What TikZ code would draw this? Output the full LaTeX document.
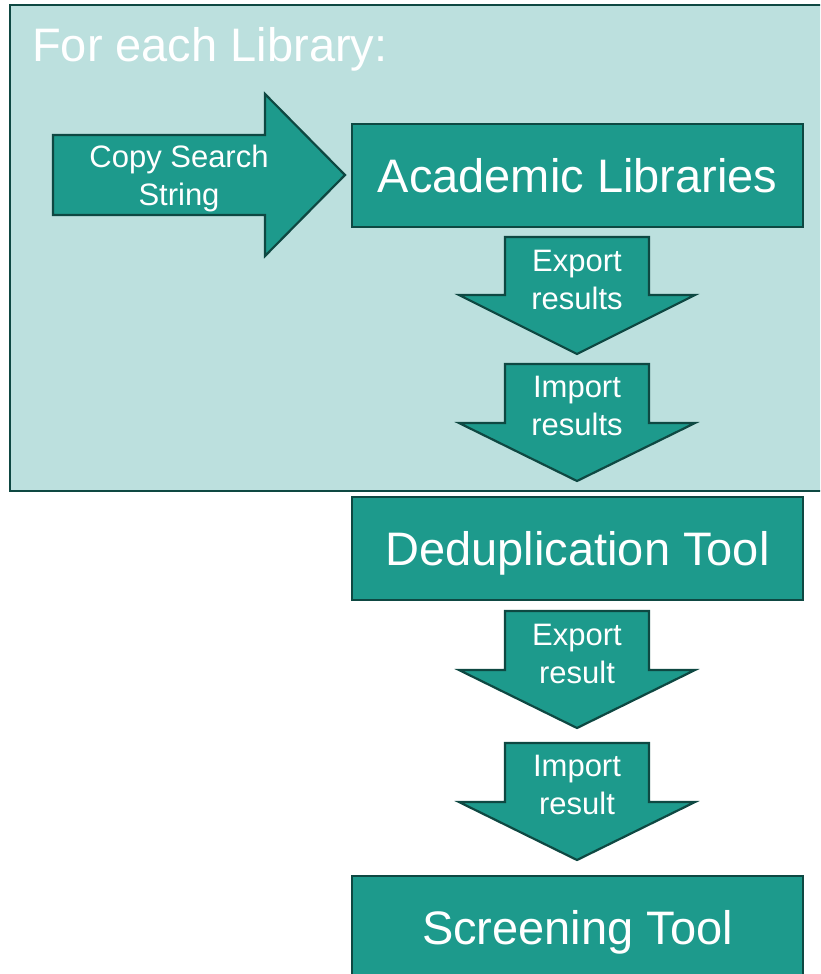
\documentclass[tikz,border=0pt]{standalone}
\usepackage{fontspec}
\setmainfont{Liberation Sans}
\definecolor{bgteal}{HTML}{BCE0DE}
\definecolor{tealfill}{HTML}{1D9A8C}
\definecolor{darkline}{HTML}{0E4842}
\newcommand\mydarrow[4]{% name, top, headbase, tip
  \draw[shapeline] (505,#2) -- (649,#2) -- (649,#3) -- (695,#3) -- (577,#4) -- (459,#3) -- (505,#3) -- cycle;
}
\begin{document}
\begin{tikzpicture}[x=1pt,y=-1pt,
  shapeline/.style={draw=darkline, line width=2.2pt, fill=tealfill, line join=miter},
  bigbox/.style={shapeline, rectangle, minimum width=451pt, minimum height=103pt, inner sep=0pt,
    text=white, font=\fontsize{47}{56}\selectfont, text height=33.6pt, text depth=0pt},
  smalltext/.style={text=white, font=\fontsize{31}{38}\selectfont, align=center, inner sep=0pt, anchor=base}]
\useasboundingbox (0,0) rectangle (820,974);
\clip (0,0) rectangle (820,974);
\fill[white] (0,0) rectangle (820,974);
% outer loop box
\draw[draw=darkline, line width=2.2pt, fill=bgteal] (10,5) rectangle (840,491);
\node[anchor=base west, text=white, font=\fontsize{47}{56}\selectfont, inner sep=0pt] (title) at (32,62) {For each Library:};
% copy arrow
\draw[shapeline] (53,135) -- (265,135) -- (265,94) -- (345,175) -- (265,256) -- (265,215) -- (53,215) -- cycle;
\node[smalltext] (copy) at (179,205) {Copy Search\\String};
% boxes
\node[bigbox] (acad) at (577.5,175.5) {Academic Libraries};
\node[bigbox] (dedup) at (577.5,548.5) {Deduplication Tool};
\node[bigbox] (screen) at (577.5,927.5) {Screening Tool};
% down arrows
\mydarrow{a1}{237}{295}{354}
\node[smalltext] (export1) at (577,309) {Export\\results};
\mydarrow{a2}{364}{423}{481}
\node[smalltext] (import1) at (577,435) {Import\\results};
\mydarrow{a3}{611}{670}{728}
\node[smalltext] (export2) at (577,683) {Export\\result};
\mydarrow{a4}{743}{802}{860}
\node[smalltext] (import2) at (577,814) {Import\\result};
\end{tikzpicture}
\end{document}
